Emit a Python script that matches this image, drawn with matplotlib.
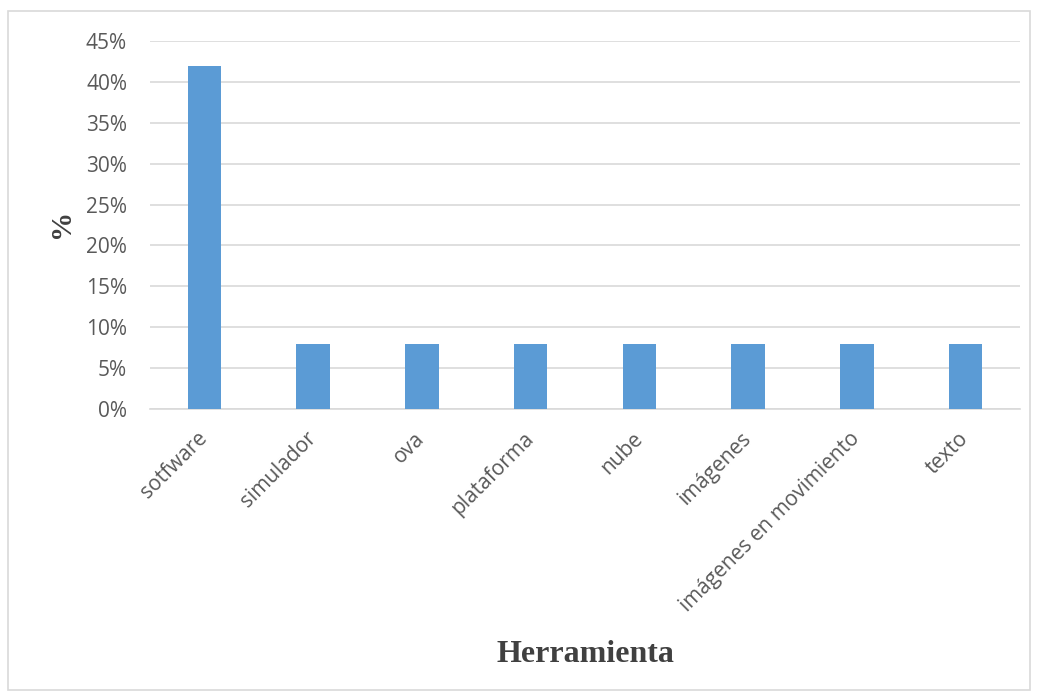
import matplotlib
matplotlib.use("Agg")
import matplotlib.pyplot as plt
from matplotlib.patches import Rectangle
from matplotlib.ticker import FuncFormatter

categories = ["sotfware", "simulador", "ova", "plataforma", "nube", "imágenes",
              "imágenes en movimiento", "texto"]
values = [0.42, 0.08, 0.08, 0.08, 0.08, 0.08, 0.08, 0.08]
yticks = [0, 0.05, 0.10, 0.15, 0.20, 0.25, 0.30, 0.35, 0.40, 0.45]

W, H = 1038, 696
fig = plt.figure(figsize=(W / 100, H / 100), dpi=100)
fig.patches.append(Rectangle((8 / W, 6 / H), 1022 / W, 679 / H, transform=fig.transFigure,
                             fill=False, edgecolor="#d9d9d9", linewidth=1.2))
ax = fig.add_axes([150 / W, (H - 409) / H, 870 / W, 368 / H])

x = list(range(len(categories)))
ax.bar(x, values, width=0.31, color="#5b9bd5", zorder=3)
ax.set_xlim(-0.5, len(categories) - 0.5)
ax.set_ylim(0, 0.45)
ax.set_yticks(yticks)
ax.yaxis.set_major_formatter(FuncFormatter(lambda v, p: f"{round(v * 100)}%"))
ax.grid(axis="y", color="#d9d9d9", linewidth=1.2, zorder=0)
for s in ["top", "right", "left"]:
    ax.spines[s].set_visible(False)
ax.spines["bottom"].set_color("#d9d9d9")
ax.spines["bottom"].set_linewidth(1.2)
ax.tick_params(axis="both", length=0, colors="#595959", labelsize=15)
ax.tick_params(axis="y", pad=16.5)
ax.set_xticks(x)
ax.set_xticklabels(categories, rotation=45, ha="right", va="center",
                   rotation_mode="anchor", fontfamily="Open Sans")
ax.tick_params(axis="x", pad=19)
for lab in ax.get_yticklabels():
    lab.set_fontfamily("Open Sans")

fig.text(61 / W, 1 - 223 / H, "%", rotation=90, fontsize=21, fontweight="bold",
         fontfamily="Liberation Serif", color="#404040", ha="center", va="center")
fig.text(585 / W, 1 - 655 / H, "Herramienta", fontsize=23, fontweight="bold",
         fontfamily="Liberation Serif", color="#404040", ha="center", va="center")

fig.savefig("out.png", dpi=100)
